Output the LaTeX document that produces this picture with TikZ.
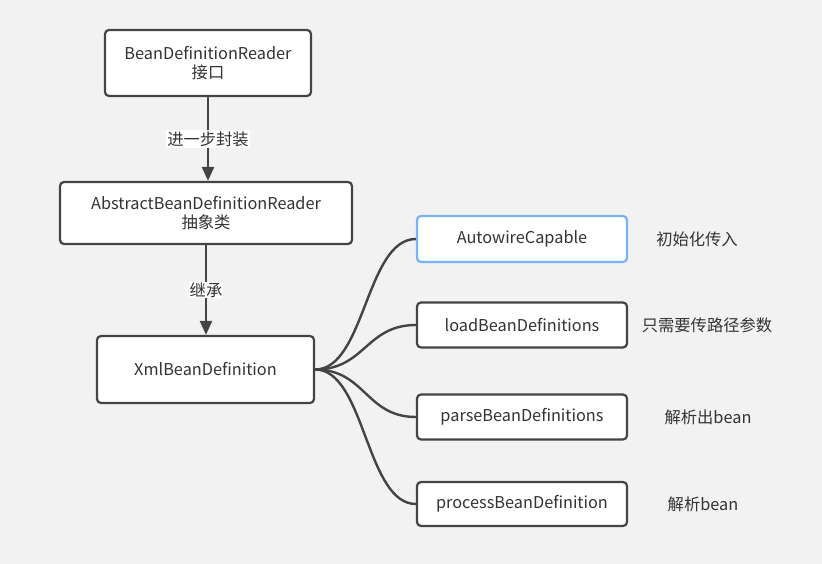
\documentclass[tikz,border=0pt]{standalone}
\usepackage{fontspec}
\setmainfont{Noto Sans CJK SC}
\usetikzlibrary{arrows.meta,calc}
\definecolor{bg}{HTML}{F2F2F2}
\definecolor{edge}{HTML}{444444}
\definecolor{txt}{HTML}{333333}
\definecolor{blueedge}{HTML}{79B3F5}
\begin{document}
\begin{tikzpicture}[x=1pt,y=-1pt,
  box/.style={draw=edge,line width=2.2pt,rounded corners=4pt,fill=white,text=txt,align=center,inner sep=0pt,font=\fontsize{16.3}{19.5}\selectfont},
  side/.style={text=txt,font=\fontsize{16.3}{19.5}\selectfont,inner sep=0pt},
  lab/.style={fill=white,text=txt,font=\fontsize{16.3}{19.5}\selectfont,inner sep=1pt},
  arr/.style={draw=edge,line width=2.4pt,-{Triangle[width=12pt,length=14pt]}},
  link/.style={draw=edge,line width=2.4pt}]
\fill[bg] (0,0) rectangle (822,564);
\useasboundingbox (0,0) rectangle (822,564);
\node[box,minimum width=206pt,minimum height=66pt] (r) at (208,63) {BeanDefinitionReader\\接口};
\node[box,minimum width=292pt,minimum height=62pt] (a) at (206,213) {AbstractBeanDefinitionReader\\抽象类};
\node[box,minimum width=217pt,minimum height=67pt] (x) at (205.5,369.5) {XmlBeanDefinition};
\node[box,draw=blueedge,minimum width=210pt,minimum height=46pt] (b1) at (522,239) {AutowireCapable};
\node[box,minimum width=210pt,minimum height=45pt] (b2) at (522,325) {loadBeanDefinitions};
\node[box,minimum width=210pt,minimum height=45pt] (b3) at (522,417) {parseBeanDefinitions};
\node[box,minimum width=210pt,minimum height=44pt] (b4) at (522,504) {processBeanDefinition};
\node[side] (s1) at (697,239) {初始化传入};
\node[side] (s2) at (707,325) {只需要传路径参数};
\node[side] (s3) at (708,417) {解析出bean};
\node[side] (s4) at (703,504) {解析bean};
\draw[arr] (r.south) -- node[lab] {进一步封装} (r.south |- a.north);
\draw[arr] (a.south) -- node[lab] {继承} (a.south |- x.north);
\foreach \t in {b1,b2,b3,b4}{
  \draw[link] (x.east) .. controls ($(x.east)+(50,0)$) and ($(\t.west)+(-50,0)$) .. (\t.west);
}
\end{tikzpicture}
\end{document}
